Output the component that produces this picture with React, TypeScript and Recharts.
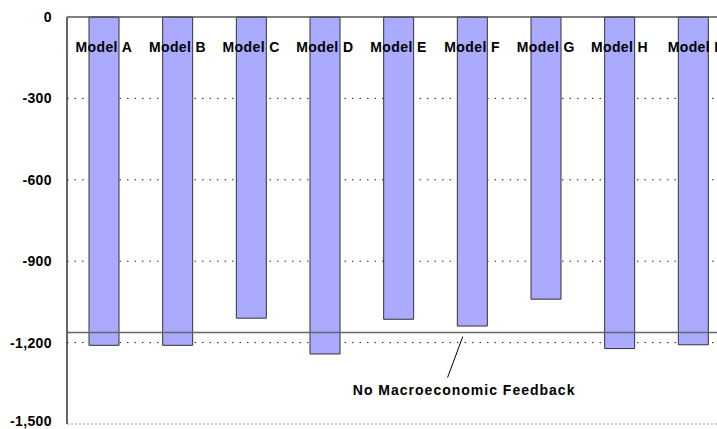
import { Bar, BarChart, CartesianGrid, ReferenceLine, XAxis, YAxis } from 'recharts';

const categories = ['Model A', 'Model B', 'Model C', 'Model D', 'Model E', 'Model F', 'Model G', 'Model H', 'Model I'];
const impacts = [-1210, -1210, -1110, -1242, -1114, -1139, -1040, -1222, -1208];
const yTicks = [0, -300, -600, -900, -1200, -1500];
const gridValues = [-300, -600, -900, -1200];
const boundaryTicks = [1, 2, 3, 4, 5, 6, 7, 8];
const baselineValue = -1163;
const baselineLabel = 'No Macroeconomic Feedback';

const data = categories.map((name, i) => ({ name, impact: impacts[i] }));

const font = '"Liberation Sans", Arial, sans-serif';

function CategoryTick({ x, y, payload }: any) {
  return (
    <text x={x} y={y + 27} textAnchor="middle" fontFamily={font} fontSize={14} fontWeight="bold" letterSpacing={0.4} fill="#000">
      {payload.value}
    </text>
  );
}

function BaselineNote({ viewBox }: any) {
  const { x, y, width } = viewBox;
  return (
    <g>
      <line x1={x + width * 0.597} y1={y + 4} x2={x + width * 0.574} y2={y + 45} stroke="#000" strokeWidth={1} />
      <text x={x + width * 0.599} y={y + 62} textAnchor="middle" fontFamily={font} fontSize={14} fontWeight="bold" letterSpacing={1} fill="#000">
        {baselineLabel}
      </text>
    </g>
  );
}

export default function App() {
  return (
    <div style={{ position: 'absolute', left: 0, top: 0, width: 717, height: 429, overflow: 'hidden', background: '#fff' }}>
      <BarChart width={740} height={429} data={data} margin={{ top: 17, right: 10, left: 0, bottom: 5 }}>
        <CartesianGrid horizontal vertical={false} horizontalValues={gridValues} stroke="#222" strokeDasharray="1.5 6" />
        <ReferenceLine y={-1500} stroke="#999" strokeDasharray="2 2" />
        <YAxis
          domain={[-1500, 0]}
          ticks={yTicks}
          width={67}
          axisLine={{ stroke: '#333', strokeWidth: 1.5 }}
          tickLine={false}
          tickSize={4}
          tickMargin={11}
          tick={{ fill: '#000', fontSize: 14, fontWeight: 'bold', fontFamily: font, letterSpacing: 0.4 }}
          tickFormatter={(v: number) => v.toLocaleString('en-US')}
        />
        <YAxis
          yAxisId="inner"
          domain={[-1500, 0]}
          ticks={gridValues}
          mirror
          axisLine={false}
          tick={false}
          tickLine={{ stroke: '#333' }}
          tickSize={4}
          allowDataOverflow
        />
        <Bar dataKey="impact" fill="#AAAAFF" stroke="#333" strokeWidth={1} barSize={30} isAnimationActive={false} />
        <XAxis
          xAxisId="bounds"
          type="number"
          domain={[0, 9]}
          ticks={boundaryTicks}
          orientation="top"
          mirror
          axisLine={false}
          tick={false}
          tickLine={{ stroke: '#555' }}
          tickSize={4}
          allowDataOverflow
        />
        <XAxis
          dataKey="name"
          orientation="top"
          mirror
          axisLine={{ stroke: '#555', strokeWidth: 1.5 }}
          tickLine={false}
          tick={<CategoryTick />}
          interval={0}
        />
        <ReferenceLine y={baselineValue} stroke="#666" strokeWidth={1.5} label={<BaselineNote />} />
      </BarChart>
    </div>
  );
}
